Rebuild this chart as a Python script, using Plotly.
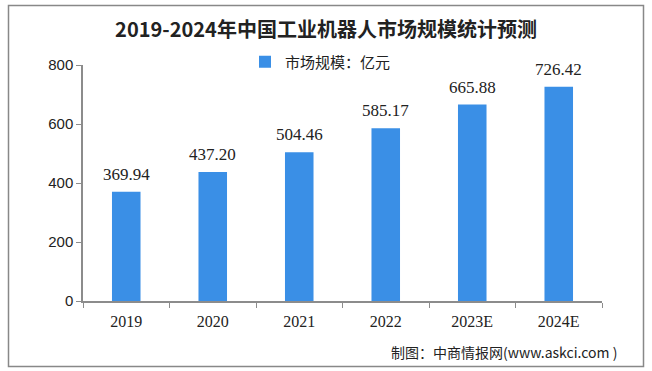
import plotly.graph_objects as go

categories = ["2019", "2020", "2021", "2022", "2023E", "2024E"]
values = [369.94, 437.20, 504.46, 585.17, 665.88, 726.42]
value_labels = ["369.94", "437.20", "504.46", "585.17", "665.88", "726.42"]
series_name = "市场规模：亿元"
title_text = "2019-2024年中国工业机器人市场规模统计预测"
source_text = "制图：中商情报网(www.askci.com )"
y_ticks = [0, 200, 400, 600, 800]

bar_color = "#3A8FE6"
axis_color = "#8c8c8c"

fig = go.Figure()
fig.add_trace(go.Bar(
    x=categories, y=values, name=series_name,
    marker=dict(color=bar_color, line=dict(width=0)),
    width=0.33, showlegend=True, hoverinfo="skip",
))

for i, (v, t) in enumerate(zip(values, value_labels)):
    fig.add_annotation(x=i, y=v, text=t, showarrow=False, yanchor="bottom",
                       yshift=6, font=dict(family="Liberation Serif, serif", size=17, color="#222"))

fig.add_annotation(xref="paper", yref="paper", x=(619 - 83) / 519, y=(301 - 352) / 236,
                   xanchor="right", yanchor="middle",
                   text=source_text, showarrow=False,
                   font=dict(family="Noto Sans CJK SC", size=14, color="#222"))

fig.add_shape(type="rect", xref="paper", yref="paper",
              x0=(8.5 - 83) / 519, x1=(643.5 - 83) / 519,
              y0=(301 - 366.5) / 236, y1=(301 - 5.5) / 236,
              line=dict(color="#888", width=1.5), fillcolor="rgba(0,0,0,0)", layer="below")

fig.update_layout(
    width=652, height=371,
    margin=dict(l=83, r=50, t=65, b=70, autoexpand=False),
    paper_bgcolor="white", plot_bgcolor="white",
    title=dict(text="<b>" + title_text + "</b>", x=0.5, xref="container", xanchor="center",
               y=1 - 30 / 371, yanchor="middle",
               font=dict(family="Noto Sans CJK SC", size=20, color="#222")),
    legend=dict(orientation="h", x=(245 - 83) / 519, xanchor="left", y=(301 - 62) / 236, yanchor="middle",
                font=dict(family="Noto Sans CJK SC", size=15, color="#222"),
                itemwidth=30, bgcolor="rgba(0,0,0,0)"),
    font=dict(family="DejaVu Sans", color="#222"),
    hovermode=False,
)
fig.update_xaxes(type="category", categoryorder="array", categoryarray=categories,
                 range=[-0.5, len(categories) - 0.5],
                 showline=True, linecolor=axis_color, linewidth=1.5, ticks="outside",
                 tickson="boundaries", ticklen=5, tickcolor=axis_color, showgrid=False,
                 ticklabelstandoff=5,
                 tickfont=dict(family="Liberation Serif, serif", size=16, color="#222"))
fig.update_yaxes(range=[0, 800], tickvals=y_ticks, showline=True, linecolor=axis_color, linewidth=1.5,
                 ticks="outside", ticklen=5, tickcolor=axis_color, showgrid=False, zeroline=False,
                 tickfont=dict(family="Liberation Sans, sans-serif", size=15, color="#222"))

fig.write_html("out.html", config={"displayModeBar": False},
               post_script="document.body.style.margin='0';")
